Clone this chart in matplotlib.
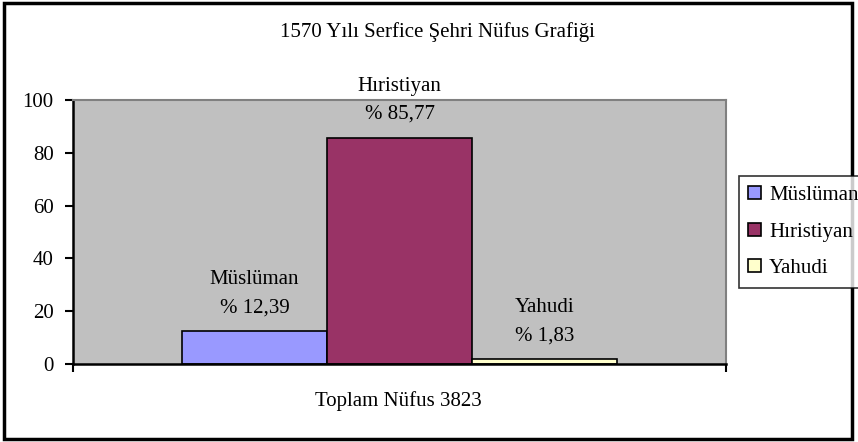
import matplotlib.pyplot as plt
from matplotlib.patches import Rectangle

groups = ['Müslüman', 'Hıristiyan', 'Yahudi']
percent = [12.39, 85.77, 1.83]
percent_labels = ['% 12,39', '% 85,77', '% 1,83']
colors = ['#9999FF', '#993366', '#FFFFCC']
title = '1570 Yılı Serfice Şehri Nüfus Grafiği'
xlabel = 'Toplam Nüfus 3823'
yticks = [0, 20, 40, 60, 80, 100]

plt.rcParams['font.family'] = ['Liberation Serif', 'DejaVu Serif']
plt.rcParams['font.size'] = 15

fig = plt.figure(figsize=(8.58, 4.42), dpi=100)
ax = fig.add_axes([73 / 858, 1 - 364 / 442, 653 / 858, 264 / 442])
ax.set_facecolor('#C0C0C0')

# one category, three series side by side
xs = range(len(groups))
bars = ax.bar(xs, percent, width=1.0, color=colors, edgecolor='black',
              linewidth=1.2, label=groups)

for x, val, name, lab in zip(xs, percent, groups, percent_labels):
    ax.annotate(name + '\n' + lab, xy=(x, val), xytext=(0, 10),
                textcoords='offset points', ha='center', va='bottom',
                linespacing=1.65)

ax.set_xlim(-1.25, 3.25)
ax.set_ylim(0, 100)
ax.set_yticks(yticks)
ax.set_xticks([-1.25, 3.25])
ax.set_xticklabels([])
ax.tick_params(axis='y', direction='out', length=6, width=1.5, pad=8)
ax.tick_params(axis='x', direction='out', length=6, width=1.5)

for side in ['top', 'right']:
    ax.spines[side].set_color('#808080')
    ax.spines[side].set_linewidth(1.5)
for side in ['left', 'bottom']:
    ax.spines[side].set_color('black')
    ax.spines[side].set_linewidth(1.8)

fig.text(437 / 858, 1 - 32 / 442, title, ha='center', va='center')
fig.text(398 / 858, 1 - 401 / 442, xlabel, ha='center', va='center')

leg = fig.legend(handles=list(bars), labels=groups, loc='center left',
                 bbox_to_anchor=(739 / 858, 1 - 232 / 442),
                 frameon=True, fancybox=False, borderaxespad=0,
                 handlelength=0.6, handleheight=0.6, handletextpad=0.4,
                 labelspacing=0.85, borderpad=0.45)
leg.get_frame().set_edgecolor('black')
leg.get_frame().set_linewidth(1.2)

# outer chart border
fig.patches.append(Rectangle((4 / 858, 3 / 442), 848 / 858, 436 / 442,
                             transform=fig.transFigure, fill=False,
                             edgecolor='black', linewidth=2.5))

plt.savefig('out.png', dpi=100)
